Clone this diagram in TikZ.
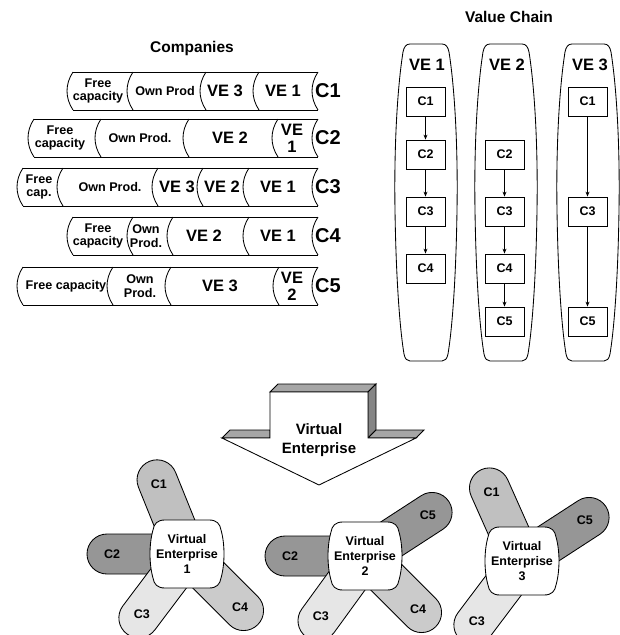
\documentclass[tikz,border=0pt]{standalone}
\usepackage{fontspec}
\setmainfont{Liberation Sans}
\usetikzlibrary{arrows.meta}
\definecolor{capA}{HTML}{C0C0C0}
\definecolor{capB}{HTML}{969696}
\definecolor{capC}{HTML}{E6E6E6}
\definecolor{capD}{HTML}{CBCBCB}
\definecolor{arrTop}{HTML}{A6A6A6}
\definecolor{arrSide}{HTML}{858585}
\newcommand\vcolumn[1]{\draw[shift={(#1,0)}] (-16,44) -- (16,44) .. controls (20,44) and (22,47) .. (23,52) .. controls (29,90) and (32,150) .. (31,210) .. controls (30,280) and (26,330) .. (22,354) .. controls (21,359) and (19,361) .. (16,361) -- (-16,361) .. controls (-19,361) and (-21,359) .. (-22,354) .. controls (-26,330) and (-30,280) .. (-31,210) .. controls (-32,150) and (-29,90) .. (-23,52) .. controls (-22,47) and (-20,44) .. (-16,44) -- cycle;}
\newcommand\hubshape[1]{\draw[fill=white, shift={#1}] (-22,-34) -- (22,-34) .. controls (30,-34) and (33,-30) .. (34,-24) .. controls (38,-10) and (38,10) .. (34,24) .. controls (33,30) and (30,34) .. (22,34) -- (-22,34) .. controls (-30,34) and (-33,30) .. (-34,24) .. controls (-38,10) and (-38,-10) .. (-34,-24) .. controls (-33,-30) and (-30,-34) .. (-22,-34) -- cycle;}
\newcommand\capsule[5]{\begin{scope}[shift={#1}, rotate=#2]
  \draw[fill=#3, rounded corners=20pt] (0,-20) rectangle (100,20);
  \node[caplbl] (#5) at (75,0) {#4};
\end{scope}}
\newcommand\comprow[3]{% #1 top y, #2 first mid x, #3 list of divider mids
  \draw (#2+6,#1) -- (318,#1);
  \draw (#2+6,#1+38) -- (318,#1+38);
  \foreach \m in {#3} {\draw (\m+6,#1) .. controls (\m-2,#1+12) and (\m-2,#1+26) .. (\m+6,#1+38);}
}
\begin{document}
\begin{tikzpicture}[x=1pt,y=-1pt, line width=0.85pt,
  lbl/.style={inner sep=0pt, align=center, font=\bfseries\fontsize{12.6}{13.5}\selectfont},
  velbl/.style={inner sep=0pt, align=center, font=\bfseries\fontsize{16.5}{17}\selectfont},
  clbl/.style={inner sep=0pt, font=\bfseries\fontsize{20}{22}\selectfont},
  title/.style={inner sep=0pt, font=\bfseries\fontsize{15.5}{17}\selectfont},
  box/.style={draw, fill=white, minimum width=39pt, minimum height=29pt, inner sep=0pt, font=\bfseries\fontsize{12.5}{14}\selectfont},
  flow/.style={-{Stealth[length=5pt,width=4pt]}, line width=0.7pt},
  caplbl/.style={inner sep=0pt, font=\bfseries\fontsize{12.5}{14}\selectfont},
  hublbl/.style={inner sep=0pt, align=center, font=\bfseries\fontsize{12.5}{15}\selectfont},
  bigtxt/.style={inner sep=0pt, align=center, font=\bfseries\fontsize{15}{19}\selectfont}]
\useasboundingbox (0,0) rectangle (620,635);

% ---------------- Companies ----------------
\node[title] (comp) at (192,48) {Companies};

\comprow{72}{67}{67,127,200,253,312}
\node[lbl] (c1a) at (98,91) {Free\\capacity};
\node[lbl] (c1b) at (165,91) {Own Prod};
\node[velbl] (c1c) at (225,91) {VE 3};
\node[velbl] (c1d) at (283,91) {VE 1};
\node[clbl] (c1) at (328,91) {C1};

\comprow{119}{28}{28,95,183,272,312}
\node[lbl] (c2a) at (60,138) {Free\\capacity};
\node[lbl] (c2b) at (140,138) {Own Prod.};
\node[velbl] (c2c) at (230,138) {VE 2};
\node[velbl] (c2d) at (292,138) {VE\\1};
\node[clbl] (c2) at (328,138) {C2};

\comprow{168}{17}{17,57,152,197,243,312}
\node[lbl] (c3a) at (39,187) {Free\\cap.};
\node[lbl] (c3b) at (110,187) {Own Prod.};
\node[velbl] (c3c) at (177,187) {VE 3};
\node[velbl] (c3d) at (222,187) {VE 2};
\node[velbl] (c3e) at (278,187) {VE 1};
\node[clbl] (c3) at (328,187) {C3};

\comprow{217}{67}{67,127,167,243,312}
\node[lbl] (c4a) at (98,236) {Free\\capacity};
\node[lbl] (c4b) at (146,236) {Own\\Prod.};
\node[velbl] (c4c) at (204,236) {VE 2};
\node[velbl] (c4d) at (278,236) {VE 1};
\node[clbl] (c4) at (328,236) {C4};

\comprow{267}{17}{17,107,165,273,312}
\node[lbl] (c5a) at (66,286) {Free capacity};
\node[lbl] (c5b) at (140,286) {Own\\Prod.};
\node[velbl] (c5c) at (220,286) {VE 3};
\node[velbl] (c5d) at (292,286) {VE\\2};
\node[clbl] (c5) at (328,286) {C5};

% ---------------- Value chain ----------------
\node[title] (vc) at (509,17) {Value Chain};
\vcolumn{426}
\vcolumn{506}
\vcolumn{588}
\node[velbl] (ve1) at (427,65) {VE 1};
\node[velbl] (ve2) at (507,65) {VE 2};
\node[velbl] (ve3) at (590,65) {VE 3};

\node[box] (v1c1) at (425.5,101.5) {C1};
\node[box] (v1c2) at (425.5,154.5) {C2};
\node[box] (v1c3) at (425.5,211.5) {C3};
\node[box] (v1c4) at (425.5,268.5) {C4};
\node[box] (v2c2) at (504.5,154.5) {C2};
\node[box] (v2c3) at (504.5,211.5) {C3};
\node[box] (v2c4) at (504.5,268.5) {C4};
\node[box] (v2c5) at (504.5,321.5) {C5};
\node[box] (v3c1) at (587.5,101.5) {C1};
\node[box] (v3c3) at (587.5,211.5) {C3};
\node[box] (v3c5) at (587.5,321.5) {C5};
\draw[flow] (v1c1) -- (v1c2);
\draw[flow] (v1c2) -- (v1c3);
\draw[flow] (v1c3) -- (v1c4);
\draw[flow] (v2c2) -- (v2c3);
\draw[flow] (v2c3) -- (v2c4);
\draw[flow] (v2c4) -- (v2c5);
\draw[flow] (v3c1) -- (v3c3);
\draw[flow] (v3c3) -- (v3c5);

% ---------------- Big arrow ----------------
\draw[fill=arrTop] (270,392) -- (278,384) -- (376,384) -- (368,392) -- cycle;
\draw[fill=arrSide] (368,392) -- (376,384) -- (376,430) -- (368,438) -- cycle;
\draw[fill=arrTop] (222,438) -- (230,430) -- (270,430) -- (270,438) -- cycle;
\draw[fill=arrTop] (368,438) -- (376,430) -- (424,430) -- (416,438) -- cycle;
\draw[fill=white] (270,392) -- (368,392) -- (368,438) -- (416,438) -- (319,485) -- (222,438) -- (270,438) -- cycle;
\node[bigtxt] (ve) at (319,440) {Virtual\\Enterprise};

% ---------------- Clusters ----------------
\capsule{(187,554)}{112}{capA}{C1}{k1c1}
\capsule{(187,554)}{180}{capB}{C2}{k1c2}
\capsule{(187,554)}{233}{capC}{C3}{k1c3}
\capsule{(187,554)}{315}{capD}{C4}{k1c4}
\hubshape{(187,554)}
\node[hublbl] (hub1) at (187,554) {Virtual\\Enterprise\\1};

\capsule{(365,556)}{33}{capB}{C5}{k2c5}
\capsule{(365,556)}{180}{capB}{C2}{k2c2}
\capsule{(365,556)}{234}{capC}{C3}{k2c3}
\capsule{(365,556)}{315}{capD}{C4}{k2c4}
\hubshape{(365,556)}
\node[hublbl] (hub2) at (365,556) {Virtual\\Enterprise\\2};

\capsule{(522,561)}{114}{capA}{C1}{k3c1}
\capsule{(522,561)}{33}{capB}{C5}{k3c5}
\capsule{(522,561)}{233}{capC}{C3}{k3c3}
\hubshape{(522,561)}
\node[hublbl] (hub3) at (522,561) {Virtual\\Enterprise\\3};
\end{tikzpicture}
\end{document}
